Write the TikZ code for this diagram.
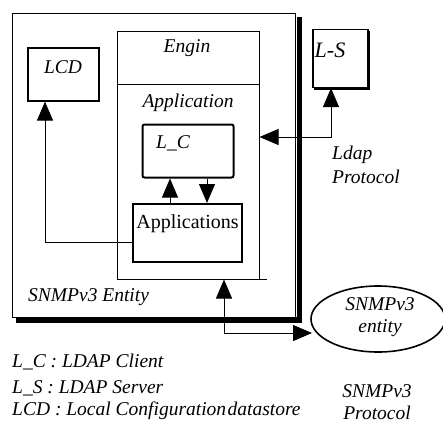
\documentclass[tikz,border=0pt]{standalone}
\usepackage{fontspec}
\setmainfont{Liberation Serif}
\usetikzlibrary{arrows.meta,shapes.geometric}
\tikzset{
  lbl/.style={font=\fontsize{19.5}{22}\selectfont\itshape, inner sep=0pt},
  box/.style={draw, line width=1pt, inner sep=0pt},
  tip/.tip={Triangle[width=16pt,length=19pt]},
  arr/.style={line width=1pt, -tip},
  darr/.style={line width=1pt, tip-tip}
}
\begin{document}
\begin{tikzpicture}[x=1pt,y=-1pt]
\useasboundingbox (0,0) rectangle (443,426);
% outer entity
\node[box, minimum width=283pt, minimum height=304pt] (outer) at (153.5,165) {};
\fill ([shift={(1pt,-4pt)}]outer.north east) rectangle ([shift={(6pt,-5pt)}]outer.south east);
\fill ([shift={(4pt,1pt)}]outer.south west) rectangle ([shift={(6pt,-5pt)}]outer.south east);
% engine
\node[box, minimum width=142pt, minimum height=248pt] (engin) at (188,155) {};
\draw[line width=1pt] (engin.west |- 0,84) -- (engin.east |- 0,84);
\draw[line width=1pt] (engin.south west) -- ([xshift=7pt]engin.south east);
% LCD
\node[box, line width=1.2pt, minimum width=71pt, minimum height=53pt] (lcd) at (63.5,74.5) {};
% L-S
\node[box, line width=1.2pt, minimum width=55pt, minimum height=58pt] (ls) at (340.5,58.5) {};
\draw[line width=2.5pt] ([shift={(0.5pt,-2pt)}]ls.north east) |- ([shift={(2pt,-0.5pt)}]ls.south west);
% L_C
\node[box, line width=2pt, rounded corners=2pt, minimum width=91pt, minimum height=53pt] (lc) at (188,151) {};
% Applications
\node[box, line width=2pt, minimum width=109pt, minimum height=58pt] (apps) at (187.5,233) {};
% ellipse
\node[draw, ellipse, line width=1.6pt, minimum width=134pt, minimum height=66pt, inner sep=0pt] (ent) at (378,319) {};

% texts
\node[lbl] (tEngin) at (187,48) {Engin};
\node[lbl] (tApp) at (188,103) {Application};
\node[lbl] (tLC) at (173,143) {L\_C};
\node[lbl] (tLCD) at (63,67) {LCD};
\node[lbl, font=\fontsize{22}{24}\selectfont\itshape] (tLS) at (330,50) {L-S};
\node[inner sep=0pt, font=\fontsize{20}{22}\selectfont] (tApps) at (187.5,224) {Applications};
\node[lbl, anchor=west] (tLdap) at (332,155) {Ldap};
\node[lbl, anchor=west] (tProt) at (332,177) {Protocol};
\node[lbl, anchor=west] (tEnt) at (28,297) {SNMPv3 Entity};
\node[lbl] (tE1) at (380,304) {SNMPv3};
\node[lbl] (tE2) at (380,328) {entity};
\node[lbl, anchor=west] (leg1) at (12,362) {L\_C : LDAP Client};
\node[lbl, anchor=west] (leg2) at (12,388) {L\_S : LDAP Server};
\node[lbl, anchor=west] (leg3) at (12,411) {LCD : Local Configuration\hspace{1.5pt}datastore};
\node[lbl] (tP1) at (377,391) {SNMPv3};
\node[lbl] (tP2) at (377,413) {Protocol};

% connectors
\coordinate (lcdin) at ([xshift=-18.5pt]lcd.south);
\draw[arr] ([yshift=-9pt]apps.west) -| (lcdin);
\coordinate (ldapc) at (331,137);
\draw[darr] (engin.east |- ldapc) -- (ldapc) -- (ldapc |- ls.south);
\draw[arr] (apps.north -| 170,0) -- (lc.south -| 170,0);
\draw[arr] (lc.south -| 207,0) -- (apps.north -| 207,0);
\coordinate (snc) at (224,333);
\coordinate (ente) at (312,333);
\draw[darr] (engin.south -| snc) -- (snc) -- (ente);
\end{tikzpicture}
\end{document}
